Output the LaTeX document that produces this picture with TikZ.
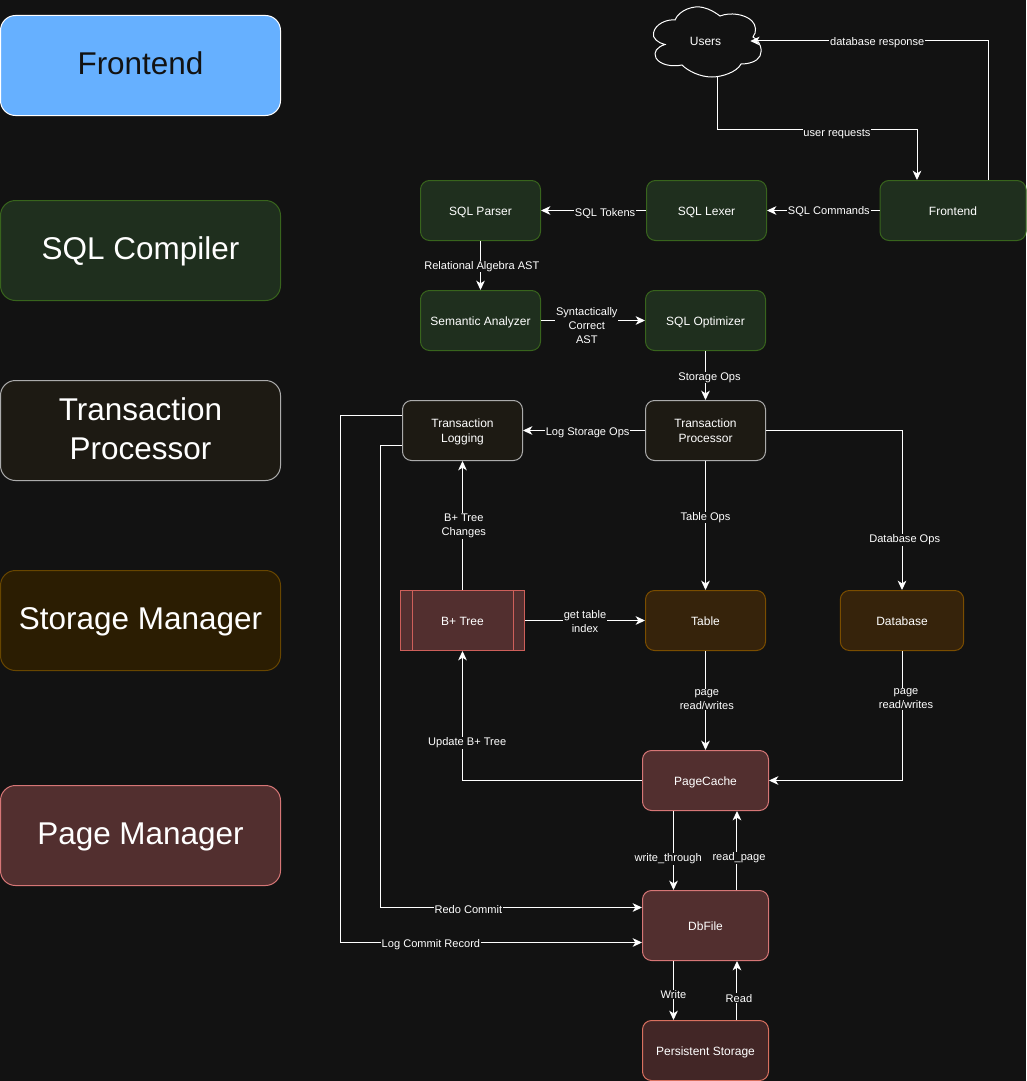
\documentclass[tikz,border=0pt]{standalone}
\usepackage{fontspec}
\setmainfont{Liberation Sans}
\usetikzlibrary{arrows.meta}
\definecolor{bgcol}{HTML}{121212}
\tikzset{
  box/.style={draw,rounded corners=6.75pt,minimum width=90pt,minimum height=45pt,inner sep=0pt,align=center,
    text=white,line width=0.75pt,text height=8pt,text depth=.8pt,font=\fontsize{9}{11.25}\selectfont},
  twolines/.style={text height=,text depth=0pt},
  legend/.style={box,rounded corners=11.25pt,minimum width=210pt,minimum height=75pt,text height=17pt,text depth=2.8pt,font=\fontsize{23.6}{29}\selectfont},
  compiler/.style={fill={rgb,255:red,31;green,47;blue,30},draw={rgb,255:red,56;green,100;blue,29}},
  txn/.style={fill={rgb,255:red,29;green,26;blue,19},draw={rgb,255:red,171;green,171;blue,171}},
  storage/.style={fill={rgb,255:red,54;green,35;blue,11},draw={rgb,255:red,122;green,77;blue,0}},
  pagebox/.style={fill={rgb,255:red,82;green,47;blue,47},draw={rgb,255:red,214;green,118;blue,118}},
  conn/.style={draw=white,line width=0.75pt,-{Stealth[length=7pt,width=6.5pt,inset=2pt]}},
  lbl/.style={fill=bgcol,text=white,inner sep=0.6pt,align=center,font=\fontsize{8.3}{10.5}\selectfont},
}
\begin{document}
\begin{tikzpicture}[x=0.75pt,y=-0.75pt]
\useasboundingbox[fill=bgcol] (0,0) rectangle (1026,1081);

% legend column
\node[legend,fill={rgb,255:red,102;green,176;blue,255},draw=white,text=bgcol] (legendfront) at (140.5,65.5) {Frontend};
\node[legend,compiler] (legendsql) at (140.5,250.5) {SQL Compiler};
\node[legend,txn,twolines,text depth=3pt] (legendtxn) at (140.5,430.5) {Transaction\\Processor};
\node[legend,fill={rgb,255:red,43;green,29;blue,2},draw={rgb,255:red,104;green,70;blue,0}] (legendstorage) at (140.5,620.5) {Storage Manager};
\node[legend,pagebox] (legendpage) at (140.5,835.5) {Page Manager};

% users cloud
\node[text=white,minimum width=64.5pt,minimum height=52.5pt,inner sep=0pt] (users) at (707,41) {};
\draw[white,line width=0.75pt] (653.5,33) .. controls (655,24) and (667,19) .. (675,20)
  .. controls (679,10) and (694,5) .. (703,7.5) .. controls (710,9) and (716,13) .. (720,16)
  .. controls (730,12) and (745,14) .. (752,21) .. controls (756,25) and (757,32) .. (753,37)
  .. controls (760,41) and (763,50) .. (760,56) .. controls (757,62) and (748,64) .. (741,64)
  .. controls (737,72) and (722,77) .. (712,77) .. controls (700,77) and (688,71) .. (682,65)
  .. controls (672,67) and (660,65) .. (656,58) .. controls (653,52) and (657,47) .. (665,44.5)
  .. controls (658,43) and (652,38) .. (653.5,33) -- cycle;
\node[text=white,font=\fontsize{9}{11.25}\selectfont] (userstext) at (705.5,41) {Users};

% sql compiler
\node[box,compiler,minimum width=109.5pt] (frontend) at (953,210.5) {Frontend};
\node[box,compiler] (lexer) at (706.5,210.5) {SQL Lexer};
\node[box,compiler] (parser) at (480.5,210.5) {SQL Parser};
\node[box,compiler] (semantic) at (480.5,320.5) {Semantic Analyzer};
\node[box,compiler] (optimizer) at (705.5,320.5) {SQL Optimizer};

% transactions
\node[box,txn,twolines] (processor) at (705.5,430.5) {Transaction\\Processor};
\node[box,txn,twolines] (logging) at (462.5,430.5) {Transaction\\Logging};

% storage
\node[box,pagebox,rounded corners=0pt,minimum width=93pt,draw={rgb,255:red,205;green,95;blue,90}] (bptree) at (462.5,620.5) {B+ Tree};
\draw[line width=0.75pt,draw={rgb,255:red,205;green,95;blue,90}] ([xshift=9pt]bptree.north west) -- ([xshift=9pt]bptree.south west);
\draw[line width=0.75pt,draw={rgb,255:red,205;green,95;blue,90}] ([xshift=-9pt]bptree.north east) -- ([xshift=-9pt]bptree.south east);
\node[box,storage] (table) at (705.5,620.5) {Table};
\node[box,storage,minimum width=92.5pt] (database) at (902,620.5) {Database};

% pages
\node[box,pagebox,minimum width=94.5pt] (pagecache) at (705.5,780.5) {PageCache};
\node[box,pagebox,minimum width=94.5pt,minimum height=52.5pt] (dbfile) at (705.5,925.5) {DbFile};
\node[box,minimum width=94.5pt,fill={rgb,255:red,66;green,38;blue,38},draw={rgb,255:red,217;green,112;blue,95}] (persistent) at (705.5,1050.5) {Persistent Storage};

% connectors
\draw[conn] ([xshift=7.5pt]users.south) -- ++(0,53) -| node[lbl,pos=.3,yshift=-3.75pt] {user requests} ([xshift=-27pt]frontend.north);
\draw[conn] ([xshift=26.25pt]frontend.north) |- node[lbl,pos=.733,yshift=-1pt] {database response} (users.east);
\draw[conn] (frontend.west) -- node[lbl,pos=.45,yshift=-.75pt] {SQL Commands} (lexer.east);
\draw[conn] (lexer.west) -- node[lbl,pos=.39,yshift=-2.5pt] {SQL Tokens} (parser.east);
\draw[conn] (parser.south) -- node[lbl,pos=.48,yshift=-1.5pt,xshift=1pt] {Relational Algebra AST} (semantic.north);
\draw[conn] (semantic.east) -- node[lbl,pos=.44,yshift=-3.5pt] {Syntactically\\Correct\\AST} (optimizer.west);
\draw[conn] (optimizer.south) -- node[lbl,pos=.5,xshift=3pt,yshift=-1.5pt] {Storage Ops} (processor.north);
\draw[conn] (processor.west) -- node[lbl,pos=.47,yshift=-1.5pt] {Log Storage Ops} (logging.east);
\draw[conn] (processor.south) -- node[lbl,pos=.43,yshift=-.75pt] {Table Ops} (table.north);
\draw[conn] (processor.east) -| node[lbl,pos=.84,xshift=2pt,yshift=-.75pt] {Database Ops} (database.north);
\draw[conn] (bptree.north) -- node[lbl,pos=.52,xshift=1pt,yshift=-2.25pt] {B+ Tree\\Changes} (logging.south);
\draw[conn] (bptree.east) -- node[lbl,pos=.5,yshift=-.75pt] {get table\\index} (table.west);
\draw[conn] (table.south) -- node[lbl,pos=.48,xshift=1pt,yshift=-.75pt] {page\\read/writes} (pagecache.north);
\draw[conn] (database.south) |- node[lbl,pos=.185,xshift=3pt] {page\\read/writes} (pagecache.east);
\draw[conn] (pagecache.west) -| node[lbl,pos=.65,xshift=3.5pt,yshift=-.75pt] {Update B+ Tree} (bptree.south);
\draw[conn] ([xshift=-24pt]pagecache.south) -- node[lbl,pos=.58,xshift=-4pt,yshift=-1.5pt] {write\_through} ([xshift=-24pt]dbfile.north);
\draw[conn] ([xshift=23.6pt]dbfile.north) -- node[lbl,pos=.42,xshift=1.5pt,yshift=-.75pt] {read\_page} ([xshift=23.6pt]pagecache.south);
\draw[conn] ([xshift=-24pt]dbfile.south) -- node[lbl,pos=.55,yshift=-.75pt] {Write} ([xshift=-24pt]persistent.north);
\draw[conn] ([xshift=23.6pt]persistent.north) -- node[lbl,pos=.37,xshift=1.5pt] {Read} ([xshift=23.6pt]dbfile.south);
\draw[conn] ([yshift=11.25pt]logging.west) -- ++(-61.5,0) |- node[lbl,pos=.65,yshift=-1.5pt] {Log Commit Record} ([yshift=-12.75pt]dbfile.west);
\draw[conn] ([yshift=-11.25pt]logging.west) -- ++(-21.5,0) |- node[lbl,pos=.668,yshift=-1.5pt] {Redo Commit} ([yshift=13.5pt]dbfile.west);
\end{tikzpicture}
\end{document}
